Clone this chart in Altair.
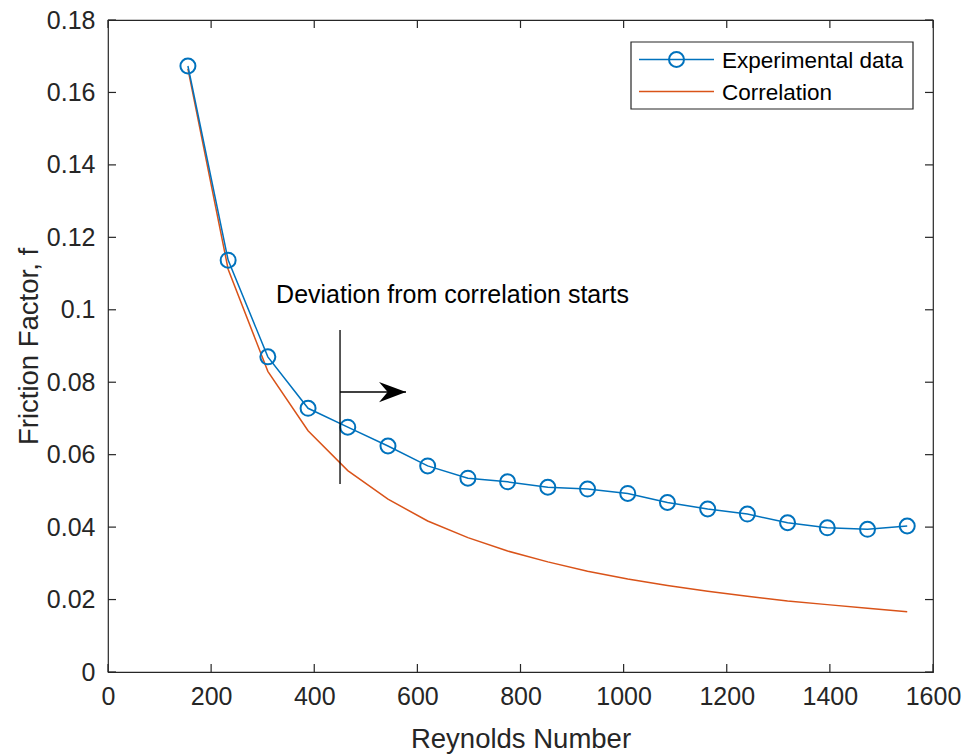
import altair as alt
import pandas as pd

# ---- data ----
re_vals = [155, 233, 310, 388, 465, 543, 620, 698, 775, 853, 930, 1008, 1085,
           1163, 1240, 1318, 1395, 1473, 1550]
f_exp = [0.1673, 0.1137, 0.0870, 0.0728, 0.0676, 0.0624, 0.0569, 0.0535, 0.0525,
         0.0510, 0.0505, 0.0493, 0.0468, 0.0450, 0.0436, 0.0412, 0.0398, 0.0394, 0.0403]
f_corr = [0.1665, 0.1112, 0.0830, 0.0666, 0.0556, 0.0477, 0.0417, 0.0371, 0.0334,
          0.0304, 0.0278, 0.0257, 0.0239, 0.0223, 0.0209, 0.0196, 0.0186, 0.0176, 0.0166]
series = ["Experimental data", "Correlation"]
x_ticks = [0, 200, 400, 600, 800, 1000, 1200, 1400, 1600]
y_ticks = [0, 0.02, 0.04, 0.06, 0.08, 0.1, 0.12, 0.14, 0.16, 0.18]

ann_text = "Deviation from correlation starts"
ann_text_re, ann_text_f = 326, 0.1019
ann_vline_re, ann_vline_f1, ann_vline_f2 = 450, 0.0519, 0.0944
ann_arrow_f, ann_arrow_end = 0.0773, 578

# ---- styles ----
W, H = 825, 652
BLUE = "#0072BD"
RED = "#D95319"
AX = "#262626"
FONT = "Liberation Sans"
TICK = 8

xs = alt.Scale(domain=[0, 1600], nice=False, zero=False)
ys = alt.Scale(domain=[0, 0.18], nice=False, zero=False)

x_axis = alt.Axis(values=x_ticks, format="d", title="Reynolds Number", domain=False,
                  ticks=False, tickSize=0, grid=False, labelFont=FONT, labelFontSize=25,
                  labelColor=AX, labelBaseline="alphabetic", labelPadding=32,
                  labelFlush=False, labelOverlap=False,
                  titleFont=FONT, titleFontSize=27.5, titleFontWeight="normal",
                  titleColor=AX, titleX=W / 2, titleY=75, titleBaseline="alphabetic",
                  titleAlign="center")
y_axis = alt.Axis(values=y_ticks, format="~g", title="Friction Factor, f", domain=False,
                  ticks=False, tickSize=0, grid=False, labelFont=FONT, labelFontSize=25,
                  labelColor=AX, labelPadding=13, labelFlush=False, labelOverlap=False,
                  titleFont=FONT, titleFontSize=27.5, titleFontWeight="normal",
                  titleColor=AX, titleX=-71, titleY=H / 2, titleAngle=-90,
                  titleBaseline="alphabetic", titleAlign="center")

X = alt.X("Re:Q", scale=xs, axis=x_axis)
Y = alt.Y("f:Q", scale=ys, axis=y_axis)

df_exp = pd.DataFrame({"Re": re_vals, "f": f_exp})
df_corr = pd.DataFrame({"Re": re_vals, "f": f_corr})

corr_line = alt.Chart(df_corr).mark_line(color=RED, strokeWidth=1.5).encode(x=X, y=Y)
exp_line = alt.Chart(df_exp).mark_line(color=BLUE, strokeWidth=1.5).encode(x=X, y=Y)
exp_pts = alt.Chart(df_exp).mark_point(shape="circle", size=225, filled=False,
                                       color=BLUE, strokeWidth=2, opacity=1).encode(x=X, y=Y)

# inward tick marks on all four sides
dx = pd.DataFrame({"Re": x_ticks})
dy = pd.DataFrame({"f": y_ticks})
tick_b = alt.Chart(dx).mark_rule(color=AX, strokeWidth=1.2).encode(
    x=X, y=alt.value(H), y2=alt.value(H - TICK))
tick_t = alt.Chart(dx).mark_rule(color=AX, strokeWidth=1.2).encode(
    x=X, y=alt.value(0), y2=alt.value(TICK))
tick_l = alt.Chart(dy).mark_rule(color=AX, strokeWidth=1.2).encode(
    y=Y, x=alt.value(0), x2=alt.value(TICK))
tick_r = alt.Chart(dy).mark_rule(color=AX, strokeWidth=1.2).encode(
    y=Y, x=alt.value(W), x2=alt.value(W - TICK))

# annotation
ann_df = pd.DataFrame({"Re": [ann_text_re], "f": [ann_text_f], "label": [ann_text]})
ann_txt = alt.Chart(ann_df).mark_text(align="left", baseline="alphabetic", font=FONT,
                                      fontSize=25, color="black").encode(x=X, y=Y, text="label:N")
vline_df = pd.DataFrame({"Re": [ann_vline_re], "f": [ann_vline_f1], "f2": [ann_vline_f2]})
vline = alt.Chart(vline_df).mark_rule(color="black", strokeWidth=1.3).encode(
    x=X, y=Y, y2="f2:Q")
arrow_df = pd.DataFrame({"Re": [ann_vline_re], "Re2": [ann_arrow_end], "f": [ann_arrow_f]})
arrow_line = alt.Chart(arrow_df).mark_rule(color="black", strokeWidth=1.3).encode(
    x=X, x2=alt.X2("Re2:Q"), y=Y)
head_df = pd.DataFrame({"Re": [ann_arrow_end], "f": [ann_arrow_f]})
arrow_head = alt.Chart(head_df).mark_point(
    shape="M1,0 L-1,-0.75 L-0.36,0 L-1,0.75 Z", size=729, filled=True, fill="black",
    stroke="black", strokeWidth=0, opacity=1, xOffset=-13.5).encode(x=X, y=Y)

# legend (drawn)
one = pd.DataFrame({"k": [0]})
leg_box = alt.Chart(one).mark_rect(fill="white", stroke=AX, strokeWidth=1.2).encode(
    x=alt.value(523), x2=alt.value(805), y=alt.value(22), y2=alt.value(89))
leg_l1 = alt.Chart(one).mark_rule(color=BLUE, strokeWidth=1.5).encode(
    x=alt.value(531), x2=alt.value(606), y=alt.value(39.5))
leg_p1 = alt.Chart(one).mark_point(shape="circle", size=225, filled=False, color=BLUE,
                                   strokeWidth=2, opacity=1).encode(
    x=alt.value(568.5), y=alt.value(39.5))
leg_l2 = alt.Chart(one).mark_rule(color=RED, strokeWidth=1.5).encode(
    x=alt.value(531), x2=alt.value(606), y=alt.value(71.5))
leg_t1 = alt.Chart(one).mark_text(align="left", baseline="middle", font=FONT, fontSize=22.5,
                                  color="black").encode(
    x=alt.value(614), y=alt.value(41), text=alt.value(series[0]))
leg_t2 = alt.Chart(one).mark_text(align="left", baseline="middle", font=FONT, fontSize=22.5,
                                  color="black").encode(
    x=alt.value(614), y=alt.value(73), text=alt.value(series[1]))

chart = alt.layer(
    corr_line, exp_line, exp_pts, tick_b, tick_t, tick_l, tick_r,
    ann_txt, vline, arrow_line, arrow_head,
    leg_box, leg_l1, leg_p1, leg_l2, leg_t1, leg_t2,
).properties(
    width=W, height=H,
    autosize=alt.AutoSizeParams(type="none"),
    padding={"left": 108, "top": 20, "right": 33, "bottom": 84},
    background="white",
).configure_view(stroke=AX, strokeWidth=1.2)

chart.save("out.html", embed_options={"renderer": "svg", "actions": False})
